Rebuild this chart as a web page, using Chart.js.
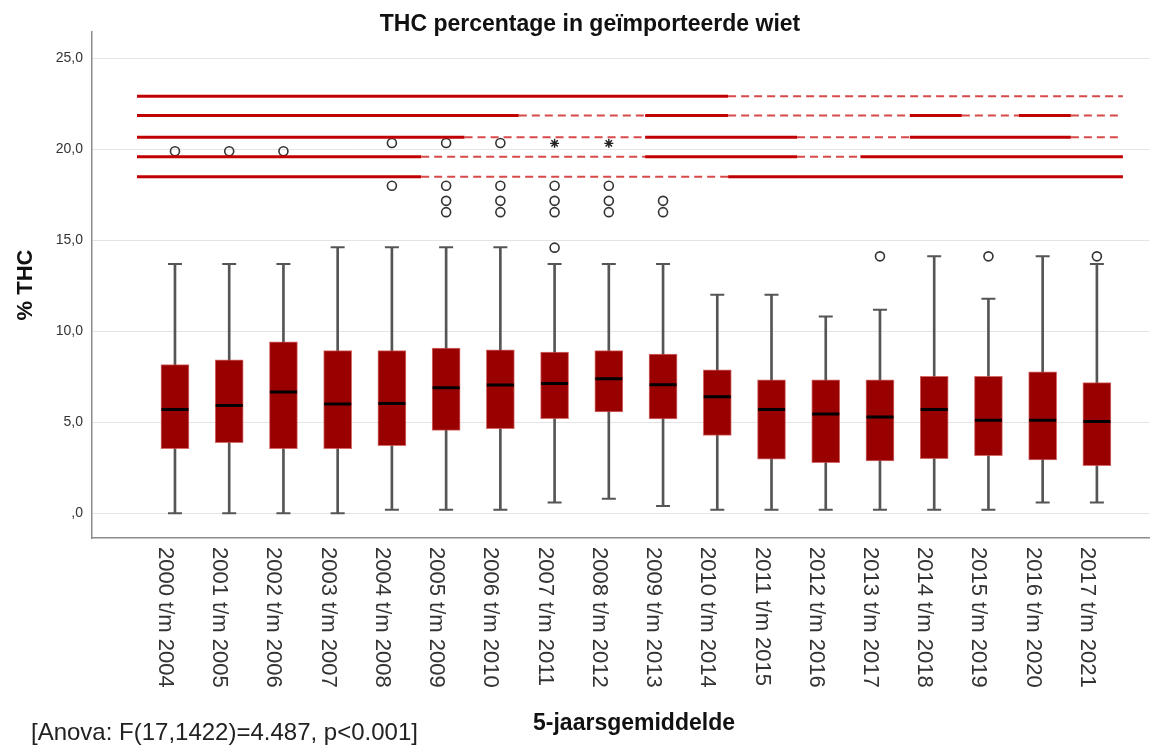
<!DOCTYPE html>
<html>
<head>
<meta charset="utf-8">
<title>THC percentage in geïmporteerde wiet</title>
<script src="https://cdn.jsdelivr.net/npm/chart.js@4.4.1/dist/chart.umd.min.js"></script>
<style>
  html, body { margin: 0; padding: 0; background: #fff; }
  #wrap { position: relative; width: 1166px; height: 747px; }
  #chartCanvas { display: block; }
  #note {
    position: absolute; left: 31px; top: 720px;
    font: 24px/24px "Liberation Sans Narrow", "Liberation Sans", sans-serif;
    color: #222;
    white-space: nowrap;
  }
</style>
</head>
<body>
<div id="wrap">
  <canvas id="chartCanvas" width="1166" height="747"></canvas>
  <div id="note">[Anova: F(17,1422)=4.487, p&lt;0.001]</div>
</div>
<script>
// teksten
const chartTitle = "THC percentage in geïmporteerde wiet";
const xTitle = "5-jaarsgemiddelde";
const yTitle = "% THC";

// categorieën (5-jaarsperiodes)
const periods = [
  "2000 t/m 2004", "2001 t/m 2005", "2002 t/m 2006", "2003 t/m 2007",
  "2004 t/m 2008", "2005 t/m 2009", "2006 t/m 2010", "2007 t/m 2011",
  "2008 t/m 2012", "2009 t/m 2013", "2010 t/m 2014", "2011 t/m 2015",
  "2012 t/m 2016", "2013 t/m 2017", "2014 t/m 2018", "2015 t/m 2019",
  "2016 t/m 2020", "2017 t/m 2021"
];

// boxplot waarden (% THC)
const whiskerLow = [0, 0, 0, 0, 0.2, 0.2, 0.2, 0.6, 0.8, 0.4, 0.2, 0.2, 0.2, 0.2, 0.2, 0.2, 0.6, 0.6];
const q1 = [3.55, 3.88, 3.55, 3.55, 3.72, 4.56, 4.65, 5.2, 5.57, 5.19, 4.28, 2.97, 2.78, 2.88, 3.0, 3.17, 2.93, 2.62];
const median = [5.7, 5.92, 6.67, 6.01, 6.04, 6.9, 7.05, 7.14, 7.4, 7.07, 6.41, 5.7, 5.46, 5.29, 5.7, 5.11, 5.11, 5.05];
const q3 = [8.17, 8.44, 9.43, 8.94, 8.94, 9.08, 8.99, 8.86, 8.94, 8.75, 7.89, 7.33, 7.33, 7.33, 7.53, 7.53, 7.77, 7.18];
const whiskerHigh = [13.7, 13.7, 13.7, 14.62, 14.62, 14.62, 14.62, 13.7, 13.7, 13.7, 12.01, 12.01, 10.81, 11.19, 14.12, 11.79, 14.12, 13.7];

// uitschieters (cirkels) en extremen (sterren)
const outlierIdx = [0, 1, 2, 4, 4, 5, 5, 5, 5, 6, 6, 6, 6, 7, 7, 7, 7, 8, 8, 8, 9, 9, 13, 15, 17];
const outlierVal = [19.9, 19.9, 19.9, 20.35, 18.0, 20.35, 18.0, 17.17, 16.55, 20.35, 18.0, 17.17, 16.55,
  18.0, 17.17, 16.55, 14.6, 18.0, 17.17, 16.55, 17.17, 16.55, 14.12, 14.12, 14.12];
const extremeIdx = [7, 8];
const extremeVal = [20.33, 20.33];

// homogene subsets (rode lijnen): hoogte, breekpunten (categorie-index), doorgetrokken of gestippeld
const subsetY = [22.92, 21.86, 20.67, 19.6, 18.5];
const subsetBreaks = [
  [-0.7, 10.2, 17.48],
  [-0.7, 6.34, 8.67, 10.2, 13.55, 14.51, 15.56, 16.52, 17.48],
  [-0.7, 5.34, 8.67, 11.47, 13.55, 16.52, 17.48],
  [-0.7, 4.54, 8.67, 11.47, 12.64, 17.48],
  [-0.7, 4.54, 10.2, 17.48]
];
const subsetSolid = [
  [1, 0],
  [1, 0, 1, 0, 1, 0, 1, 0],
  [1, 0, 1, 0, 1, 0],
  [1, 0, 1, 0, 1],
  [1, 0, 1]
];

// y-as
const yTickValues = [0, 5, 10, 15, 20, 25];
const yTickLabels = [",0", "5,0", "10,0", "15,0", "20,0", "25,0"];

const RED = "#c00000";
const RED_DASH = "#d84a4a";
const BOX = "#990000";
const WHISKER = "#555555";

Chart.defaults.font.family = '"Liberation Sans", Arial, sans-serif';

// titel, x-labels (met de klok mee gedraaid) en x-titel
const textPlugin = {
  id: "textPlugin",
  afterDraw(chart) {
    const { ctx, chartArea, scales } = chart;
    ctx.save();
    ctx.fillStyle = "#111";
    ctx.font = 'bold 23px "Liberation Sans", Arial, sans-serif';
    ctx.textAlign = "center";
    ctx.textBaseline = "alphabetic";
    ctx.fillText(chartTitle, 590, 31);
    ctx.fillText(xTitle, 634, 730);

    ctx.font = '22px "Liberation Sans", Arial, sans-serif';
    ctx.fillStyle = "#333";
    ctx.textAlign = "left";
    periods.forEach((label, i) => {
      ctx.save();
      ctx.translate(scales.x.getPixelForValue(i) - 16, chartArea.bottom + 9);
      ctx.rotate(Math.PI / 2);
      ctx.fillText(label, 0, 0);
      ctx.restore();
    });
    ctx.restore();
  }
};

const subsetDatasets = subsetY.map((yv, k) => ({
  type: "line",
  data: subsetBreaks[k].map((b) => ({ x: b, y: yv })),
  borderColor: RED,
  borderWidth: 3,
  pointRadius: 0,
  tension: 0,
  order: 1,
  segment: {
    borderDash: (c) => (subsetSolid[k][c.p0DataIndex] ? [] : [8, 5]),
    borderColor: (c) => (subsetSolid[k][c.p0DataIndex] ? RED : RED_DASH),
    borderWidth: (c) => (subsetSolid[k][c.p0DataIndex] ? 3 : 2)
  }
}));

const ctx = document.getElementById("chartCanvas").getContext("2d");
new Chart(ctx, {
  type: "bar",
  data: {
    datasets: [
      {
        // snorharen
        type: "bar",
        data: periods.map((_, i) => ({ x: i, y: [whiskerLow[i], whiskerHigh[i]] })),
        backgroundColor: WHISKER,
        borderWidth: 0,
        barThickness: 2,
        grouped: false,
        order: 5
      },
      {
        // boxen
        type: "bar",
        data: periods.map((_, i) => ({ x: i, y: [q1[i], q3[i]] })),
        backgroundColor: BOX,
        borderColor: "rgba(200,70,70,0.8)",
        borderWidth: 1,
        borderSkipped: false,
        barThickness: 28,
        grouped: false,
        order: 4
      },
      {
        // uiteinden snorharen
        type: "scatter",
        data: periods.flatMap((_, i) => [{ x: i, y: whiskerLow[i] }, { x: i, y: whiskerHigh[i] }]),
        pointStyle: "line",
        pointRadius: 7,
        pointBorderWidth: 2,
        pointBorderColor: WHISKER,
        order: 3
      },
      {
        // medianen
        type: "scatter",
        data: periods.map((_, i) => ({ x: i, y: median[i] })),
        pointStyle: "line",
        pointRadius: 13.5,
        pointBorderWidth: 3,
        pointBorderColor: "#000",
        order: 3
      },
      {
        type: "scatter",
        data: outlierIdx.map((x, i) => ({ x: x, y: outlierVal[i] })),
        pointStyle: "circle",
        pointRadius: 4.5,
        pointBorderWidth: 1.6,
        pointBorderColor: "#333",
        pointBackgroundColor: "rgba(255,255,255,0)",
        order: 2
      },
      {
        type: "scatter",
        data: extremeIdx.map((x, i) => ({ x: x, y: extremeVal[i] })),
        pointStyle: "star",
        pointRadius: 4.5,
        pointBorderWidth: 1.4,
        pointBorderColor: "#222",
        order: 2
      },
      ...subsetDatasets
    ]
  },
  options: {
    responsive: false,
    animation: false,
    events: [],
    layout: { padding: { top: 32, right: 16, left: 0, bottom: 0 } },
    plugins: {
      legend: { display: false },
      tooltip: { enabled: false },
      title: { display: false }
    },
    scales: {
      x: {
        type: "linear",
        min: -1.53,
        max: 17.97,
        offset: false,
        grid: { display: false },
        border: { display: true, color: "#8c8c8c", width: 1.5 },
        ticks: { display: false },
        afterFit: (scale) => { scale.height = 209; }
      },
      y: {
        type: "linear",
        min: -1.357,
        max: 26.45,
        grid: { color: "#e4e4e4", lineWidth: 1, drawTicks: false },
        border: { display: true, color: "#8c8c8c", width: 1.5 },
        ticks: {
          padding: 9,
          color: "#333",
          font: { size: 14 },
          callback: (v) => yTickLabels[yTickValues.indexOf(v)]
        },
        afterBuildTicks: (scale) => {
          scale.ticks = yTickValues.map((v) => ({ value: v }));
        },
        afterFit: (scale) => { scale.width = 92; },
        title: {
          display: true,
          text: yTitle,
          color: "#111",
          font: { size: 22, weight: "bold" },
          padding: { top: 13, bottom: 0 }
        }
      }
    }
  },
  plugins: [textPlugin]
});
</script>
</body>
</html>
